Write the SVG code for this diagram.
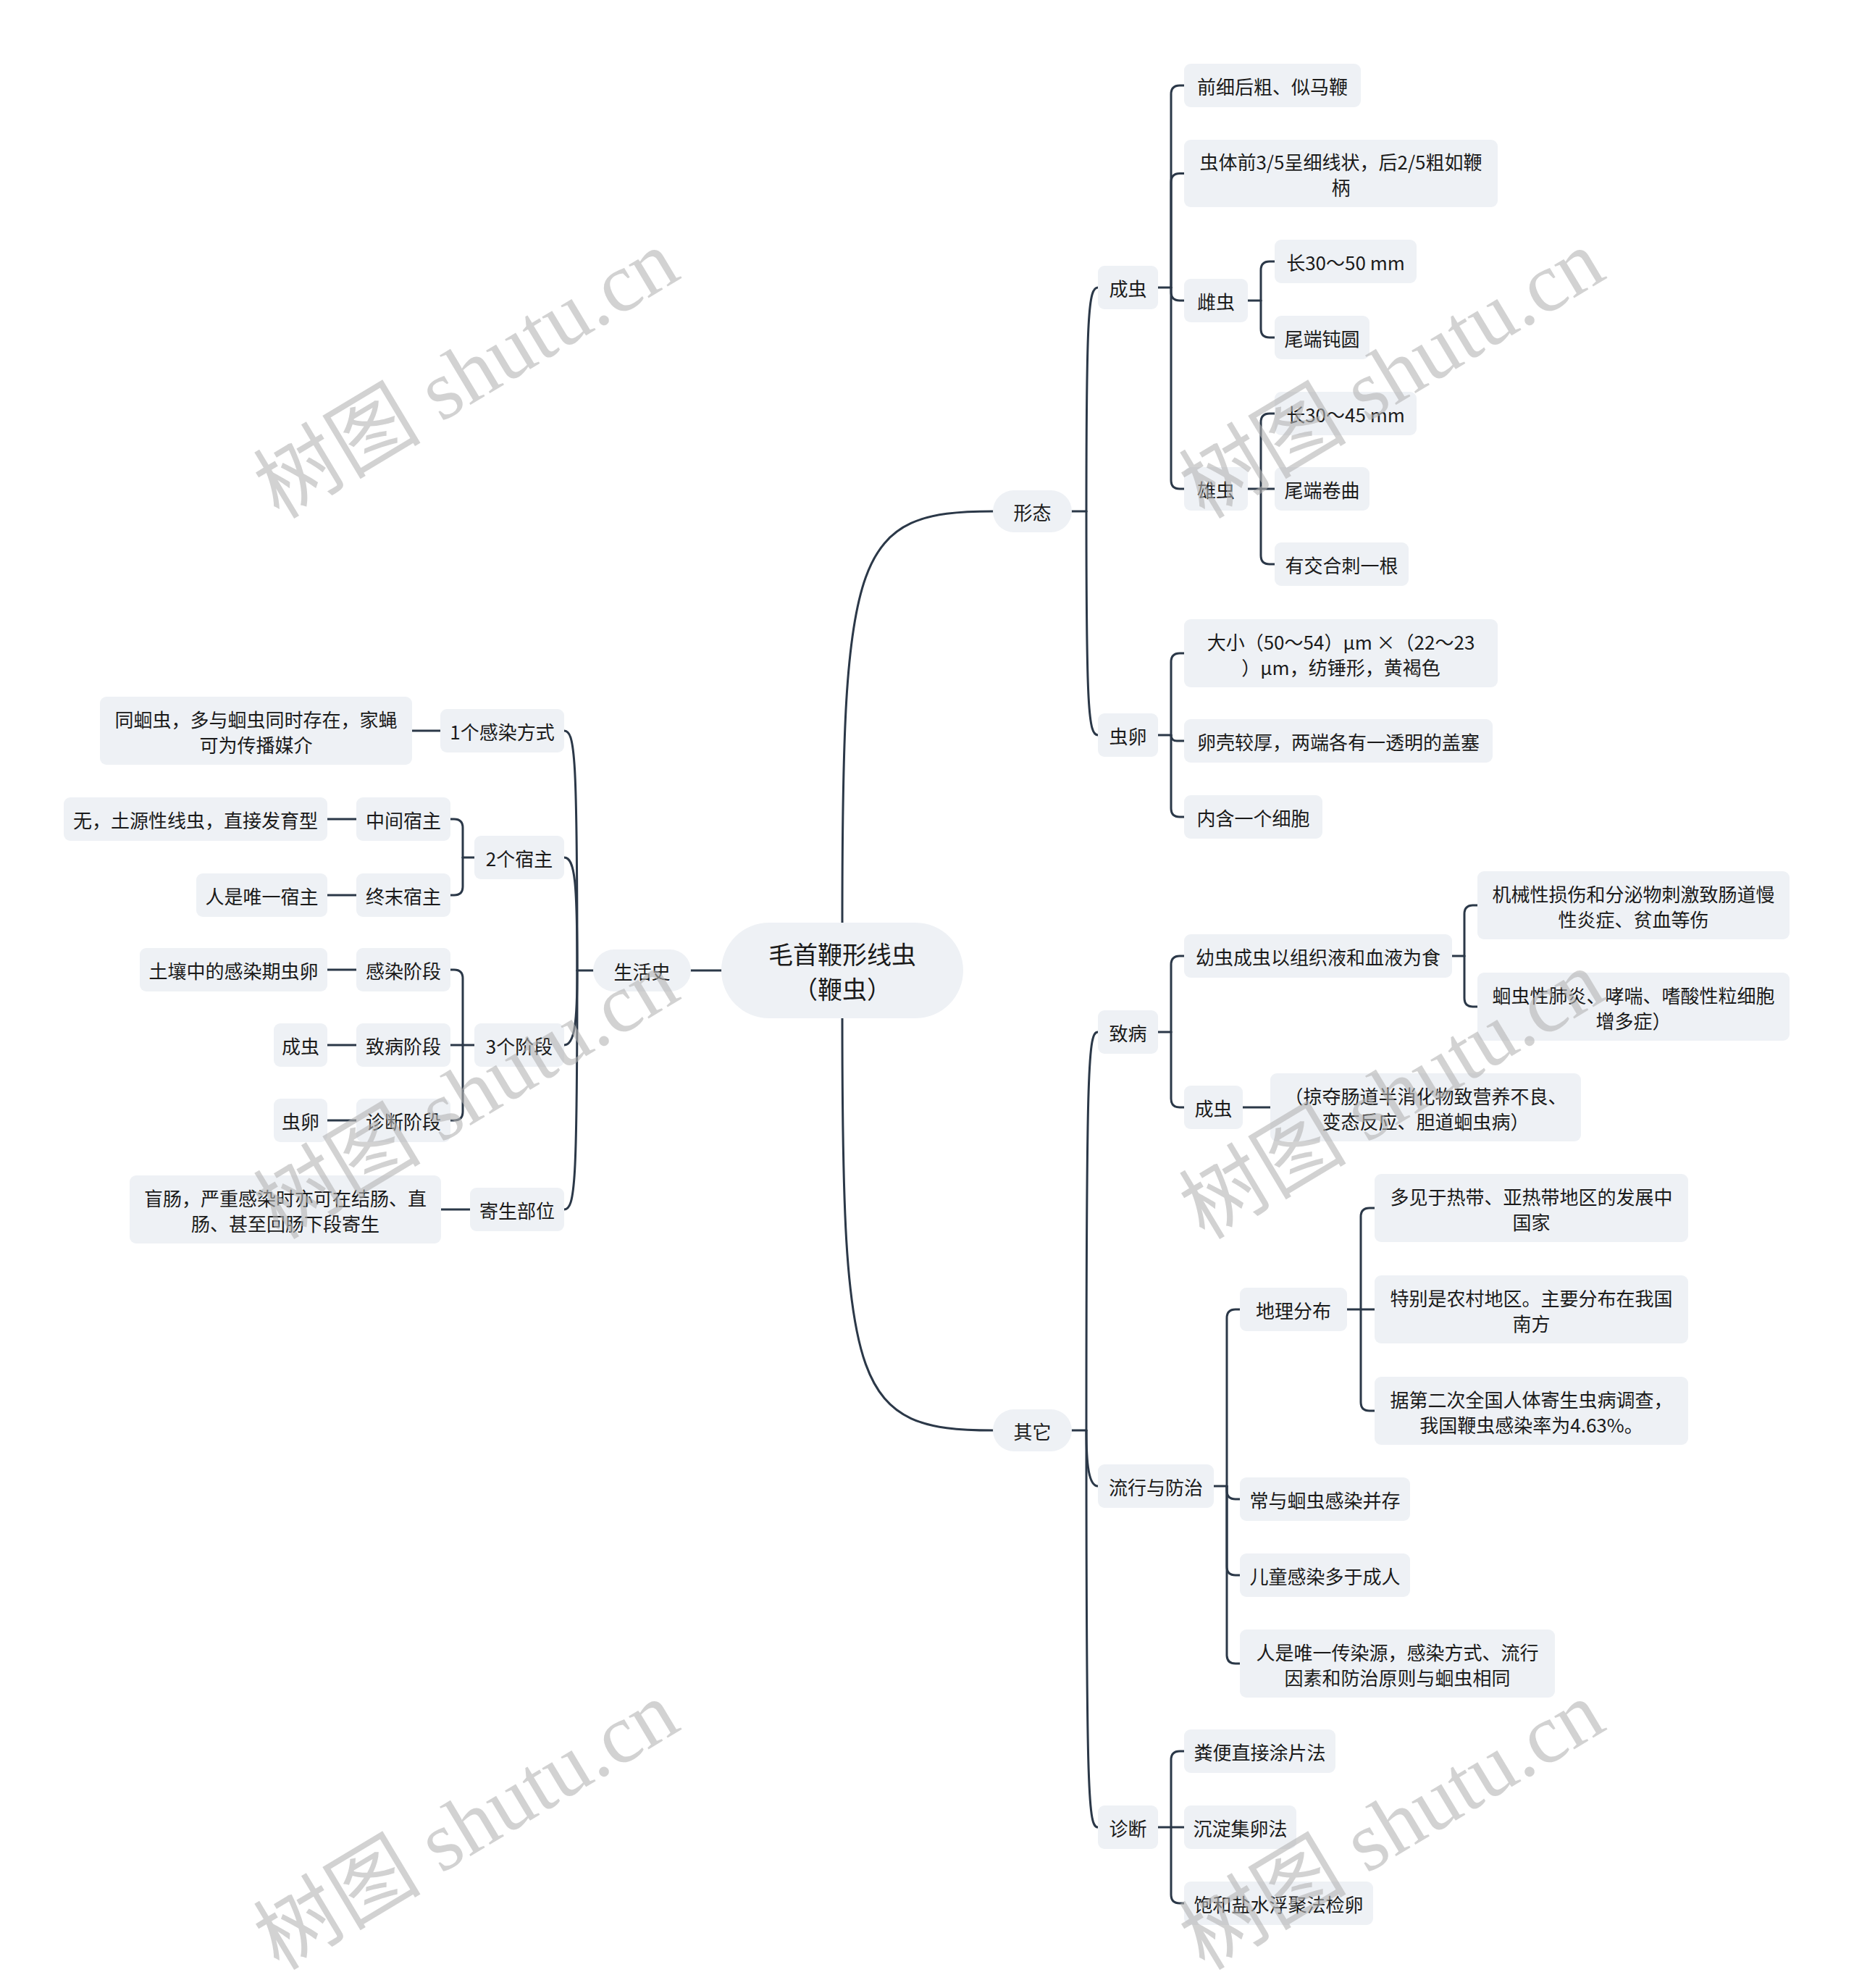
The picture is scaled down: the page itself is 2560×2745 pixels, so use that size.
<svg xmlns="http://www.w3.org/2000/svg" width="2560" height="2745" viewBox="0 0 2560 2745">
<style>
.n{fill:#eef1f5}
.t{font-family:"Microsoft YaHei","Noto Sans CJK SC","Noto Sans",sans-serif;font-size:26px;fill:#1a1a1a;text-anchor:middle;dominant-baseline:central}
.r{font-size:34px}
.c path{fill:none;stroke:#2b3848;stroke-width:3;stroke-linecap:round}
.wm{font-family:"Liberation Serif","Noto Sans CJK SC",serif;font-size:116px;fill:#b4b4b4;fill-opacity:0.6;text-anchor:middle;dominant-baseline:central}
</style>
<rect width="2560" height="2745" fill="#ffffff"/>
<g class="c" id="connectors">
<path d="M1163 1274 C1163 760 1180 706 1371 706"/>
<path d="M1163 1406 C1163 1921 1180 1975 1371 1975"/>
<path d="M996 1340 H954"/>
<path d="M1480 706 H1500"/>
<path d="M1500 706 C1500 432 1503 397 1516 397"/>
<path d="M1500 706 C1500 980 1503 1015 1516 1015"/>
<path d="M1599 397 H1617"/>
<path d="M1617 397 V130 Q1617 118 1629 118 H1635"/>
<path d="M1617 397 V251.5 Q1617 239.5 1629 239.5 H1635"/>
<path d="M1617 397 V403 Q1617 415 1629 415 H1635"/>
<path d="M1617 397 V663 Q1617 675 1629 675 H1635"/>
<path d="M1723 415 H1741"/>
<path d="M1741 415 V373 Q1741 361 1753 361 H1760"/>
<path d="M1741 415 V454 Q1741 466 1753 466 H1760"/>
<path d="M1723 675 H1760"/>
<path d="M1741 675 V583 Q1741 571 1753 571 H1760"/>
<path d="M1741 675 V767 Q1741 779 1753 779 H1760"/>
<path d="M1599 1015 H1617"/>
<path d="M1617 1015 V914 Q1617 902 1629 902 H1635"/>
<path d="M1617 1015 Q1617 1023 1625 1023 H1635"/>
<path d="M1617 1015 V1116 Q1617 1128 1629 1128 H1635"/>
<path d="M1480 1975 H1500"/>
<path d="M1500 1975 C1500 1460 1503 1425 1516 1425"/>
<path d="M1500 1975 C1500 2020 1503 2052 1516 2052"/>
<path d="M1500 1975 C1500 2490 1503 2523 1516 2523"/>
<path d="M1599 1425 H1617"/>
<path d="M1617 1425 V1332 Q1617 1320 1629 1320 H1635"/>
<path d="M1617 1425 V1517 Q1617 1529 1629 1529 H1635"/>
<path d="M2005 1320 H2022"/>
<path d="M2022 1320 V1262 Q2022 1250 2034 1250 H2040"/>
<path d="M2022 1320 V1378 Q2022 1390 2034 1390 H2040"/>
<path d="M1716 1529 H1754"/>
<path d="M1676 2052 H1694"/>
<path d="M1694 2052 V1820 Q1694 1808 1706 1808 H1712"/>
<path d="M1694 2052 V2058 Q1694 2070 1706 2070 H1712"/>
<path d="M1694 2052 V2163 Q1694 2175 1706 2175 H1712"/>
<path d="M1694 2052 V2285 Q1694 2297 1706 2297 H1712"/>
<path d="M1860 1808 H1898"/>
<path d="M1879 1808 V1680 Q1879 1668 1891 1668 H1898"/>
<path d="M1879 1808 V1936 Q1879 1948 1891 1948 H1898"/>
<path d="M1599 2523 H1635"/>
<path d="M1617 2523 V2430 Q1617 2418 1629 2418 H1635"/>
<path d="M1617 2523 V2616 Q1617 2628 1629 2628 H1635"/>
<path d="M819 1340 H797"/>
<path d="M797 1340 C797 1044 794 1009 779 1009"/>
<path d="M797 1340 C797 1219 794 1184 779 1184"/>
<path d="M797 1340 C797 1408 794 1443 779 1443"/>
<path d="M797 1340 C797 1635 794 1670 779 1670"/>
<path d="M608 1009 H569"/>
<path d="M655 1184 H639"/>
<path d="M639 1184 V1143 Q639 1131 627 1131 H622"/>
<path d="M639 1184 V1224 Q639 1236 627 1236 H622"/>
<path d="M492 1131 H452"/>
<path d="M492 1236 H452"/>
<path d="M655 1443 H622"/>
<path d="M639 1443 V1351 Q639 1339 627 1339 H622"/>
<path d="M639 1443 V1535 Q639 1547 627 1547 H622"/>
<path d="M492 1339 H452"/>
<path d="M492 1443 H452"/>
<path d="M492 1547 H452"/>
<path d="M649 1670 H609"/>
</g>
<g id="root"><rect class="n" x="996" y="1274" width="334" height="132" rx="66"/><text class="t r"><tspan x="1163" y="1316">毛首鞭形线虫</tspan><tspan x="1163" y="1364">（鞭虫）</tspan></text></g>
<g id="n-xingtai"><rect class="n" x="1371" y="677" width="109" height="58" rx="29"/><text class="t" x="1425.5" y="706">形态</text></g>
<g id="n-qita"><rect class="n" x="1371" y="1946" width="109" height="58" rx="29"/><text class="t" x="1425.5" y="1975">其它</text></g>
<g id="n-shenghuoshi"><rect class="n" x="819" y="1311" width="135" height="58" rx="29"/><text class="t" x="886.5" y="1340">生活史</text></g>
<g id="n-chengchong"><rect class="n" x="1516" y="367" width="83" height="60" rx="9"/><text class="t" x="1557.5" y="397">成虫</text></g>
<g id="n-qianxi"><rect class="n" x="1635" y="88" width="244" height="60" rx="9"/><text class="t" x="1757" y="118">前细后粗、似马鞭</text></g>
<g id="n-chongti"><rect class="n" x="1635" y="193" width="433" height="93" rx="9"/><text class="t"><tspan x="1851.5" y="222">虫体前3/5呈细线状，后2/5粗如鞭</tspan><tspan x="1851.5" y="257">柄</tspan></text></g>
<g id="n-cichong"><rect class="n" x="1635" y="385" width="88" height="60" rx="9"/><text class="t" x="1679" y="415">雌虫</text></g>
<g id="n-c1"><rect class="n" x="1760" y="331" width="196" height="60" rx="9"/><text class="t" x="1858" y="361">长30～50 mm</text></g>
<g id="n-c2"><rect class="n" x="1760" y="436" width="131" height="60" rx="9"/><text class="t" x="1825.5" y="466">尾端钝圆</text></g>
<g id="n-xiongchong"><rect class="n" x="1635" y="645" width="88" height="60" rx="9"/><text class="t" x="1679" y="675">雄虫</text></g>
<g id="n-x1"><rect class="n" x="1760" y="541" width="196" height="60" rx="9"/><text class="t" x="1858" y="571">长30～45 mm</text></g>
<g id="n-x2"><rect class="n" x="1760" y="645" width="131" height="60" rx="9"/><text class="t" x="1825.5" y="675">尾端卷曲</text></g>
<g id="n-x3"><rect class="n" x="1760" y="749" width="185" height="60" rx="9"/><text class="t" x="1852.5" y="779">有交合刺一根</text></g>
<g id="n-chongluan"><rect class="n" x="1516" y="985" width="83" height="60" rx="9"/><text class="t" x="1557.5" y="1015">虫卵</text></g>
<g id="n-e1"><rect class="n" x="1635" y="855" width="433" height="94" rx="9"/><text class="t"><tspan x="1851.5" y="885">大小（50～54）μm ×（22～23</tspan><tspan x="1851.5" y="920">）μm，纺锤形，黄褐色</tspan></text></g>
<g id="n-e2"><rect class="n" x="1635" y="993" width="426" height="60" rx="9"/><text class="t" x="1848" y="1023">卵壳较厚，两端各有一透明的盖塞</text></g>
<g id="n-e3"><rect class="n" x="1635" y="1098" width="191" height="60" rx="9"/><text class="t" x="1730.5" y="1128">内含一个细胞</text></g>
<g id="n-zhibing"><rect class="n" x="1516" y="1395" width="83" height="60" rx="9"/><text class="t" x="1557.5" y="1425">致病</text></g>
<g id="n-youchong"><rect class="n" x="1635" y="1290" width="370" height="60" rx="9"/><text class="t" x="1820" y="1320">幼虫成虫以组织液和血液为食</text></g>
<g id="n-y1"><rect class="n" x="2040" y="1203" width="431" height="94" rx="9"/><text class="t"><tspan x="2255.5" y="1233">机械性损伤和分泌物刺激致肠道慢</tspan><tspan x="2255.5" y="1268">性炎症、贫血等伤</tspan></text></g>
<g id="n-y2"><rect class="n" x="2040" y="1343" width="431" height="94" rx="9"/><text class="t"><tspan x="2255.5" y="1373">蛔虫性肺炎、哮喘、嗜酸性粒细胞</tspan><tspan x="2255.5" y="1408">增多症）</tspan></text></g>
<g id="n-chengchong2"><rect class="n" x="1635" y="1499" width="81" height="60" rx="9"/><text class="t" x="1675.5" y="1529">成虫</text></g>
<g id="n-lueduo"><rect class="n" x="1754" y="1482" width="429" height="94" rx="9"/><text class="t"><tspan x="1968.5" y="1512">（掠夺肠道半消化物致营养不良、</tspan><tspan x="1968.5" y="1547">变态反应、胆道蛔虫病）</tspan></text></g>
<g id="n-liuxing"><rect class="n" x="1516" y="2022" width="160" height="60" rx="9"/><text class="t" x="1596" y="2052">流行与防治</text></g>
<g id="n-dili"><rect class="n" x="1712" y="1778" width="148" height="60" rx="9"/><text class="t" x="1786" y="1808">地理分布</text></g>
<g id="n-d1"><rect class="n" x="1898" y="1621" width="433" height="94" rx="9"/><text class="t"><tspan x="2114.5" y="1651">多见于热带、亚热带地区的发展中</tspan><tspan x="2114.5" y="1686">国家</tspan></text></g>
<g id="n-d2"><rect class="n" x="1898" y="1761" width="433" height="94" rx="9"/><text class="t"><tspan x="2114.5" y="1791">特别是农村地区。主要分布在我国</tspan><tspan x="2114.5" y="1826">南方</tspan></text></g>
<g id="n-d3"><rect class="n" x="1898" y="1901" width="433" height="94" rx="9"/><text class="t"><tspan x="2114.5" y="1931">据第二次全国人体寄生虫病调查，</tspan><tspan x="2114.5" y="1966">我国鞭虫感染率为4.63%。</tspan></text></g>
<g id="n-l2"><rect class="n" x="1712" y="2040" width="235" height="60" rx="9"/><text class="t" x="1829.5" y="2070">常与蛔虫感染并存</text></g>
<g id="n-l3"><rect class="n" x="1712" y="2145" width="235" height="60" rx="9"/><text class="t" x="1829.5" y="2175">儿童感染多于成人</text></g>
<g id="n-l4"><rect class="n" x="1712" y="2250" width="435" height="94" rx="9"/><text class="t"><tspan x="1929.5" y="2280">人是唯一传染源，感染方式、流行</tspan><tspan x="1929.5" y="2315">因素和防治原则与蛔虫相同</tspan></text></g>
<g id="n-zhenduan"><rect class="n" x="1516" y="2493" width="83" height="60" rx="9"/><text class="t" x="1557.5" y="2523">诊断</text></g>
<g id="n-z1"><rect class="n" x="1635" y="2388" width="209" height="60" rx="9"/><text class="t" x="1739.5" y="2418">粪便直接涂片法</text></g>
<g id="n-z2"><rect class="n" x="1635" y="2493" width="155" height="60" rx="9"/><text class="t" x="1712.5" y="2523">沉淀集卵法</text></g>
<g id="n-z3"><rect class="n" x="1635" y="2598" width="261" height="60" rx="9"/><text class="t" x="1765.5" y="2628">饱和盐水浮聚法检卵</text></g>
<g id="n-ganran"><rect class="n" x="608" y="979" width="171" height="60" rx="9"/><text class="t" x="693.5" y="1009">1个感染方式</text></g>
<g id="n-ganran1"><rect class="n" x="138" y="962" width="431" height="94" rx="9"/><text class="t"><tspan x="353.5" y="992">同蛔虫，多与蛔虫同时存在，家蝇</tspan><tspan x="353.5" y="1027">可为传播媒介</tspan></text></g>
<g id="n-suzhu"><rect class="n" x="655" y="1154" width="124" height="60" rx="9"/><text class="t" x="717" y="1184">2个宿主</text></g>
<g id="n-zhongjian"><rect class="n" x="492" y="1101" width="130" height="60" rx="9"/><text class="t" x="557" y="1131">中间宿主</text></g>
<g id="n-zhongjian1"><rect class="n" x="88" y="1101" width="364" height="60" rx="9"/><text class="t" x="270" y="1131">无，土源性线虫，直接发育型</text></g>
<g id="n-zhongmo"><rect class="n" x="492" y="1206" width="130" height="60" rx="9"/><text class="t" x="557" y="1236">终末宿主</text></g>
<g id="n-zhongmo1"><rect class="n" x="271" y="1206" width="181" height="60" rx="9"/><text class="t" x="361.5" y="1236">人是唯一宿主</text></g>
<g id="n-jieduan"><rect class="n" x="655" y="1413" width="124" height="60" rx="9"/><text class="t" x="717" y="1443">3个阶段</text></g>
<g id="n-j1"><rect class="n" x="492" y="1309" width="130" height="60" rx="9"/><text class="t" x="557" y="1339">感染阶段</text></g>
<g id="n-j1a"><rect class="n" x="193" y="1309" width="259" height="60" rx="9"/><text class="t" x="322.5" y="1339">土壤中的感染期虫卵</text></g>
<g id="n-j2"><rect class="n" x="492" y="1413" width="130" height="60" rx="9"/><text class="t" x="557" y="1443">致病阶段</text></g>
<g id="n-j2a"><rect class="n" x="378" y="1413" width="74" height="60" rx="9"/><text class="t" x="415" y="1443">成虫</text></g>
<g id="n-j3"><rect class="n" x="492" y="1517" width="130" height="60" rx="9"/><text class="t" x="557" y="1547">诊断阶段</text></g>
<g id="n-j3a"><rect class="n" x="378" y="1517" width="74" height="60" rx="9"/><text class="t" x="415" y="1547">虫卵</text></g>
<g id="n-jisheng"><rect class="n" x="649" y="1640" width="130" height="60" rx="9"/><text class="t" x="714" y="1670">寄生部位</text></g>
<g id="n-jisheng1"><rect class="n" x="179" y="1623" width="430" height="94" rx="9"/><text class="t"><tspan x="394" y="1653">盲肠，严重感染时亦可在结肠、直</tspan><tspan x="394" y="1688">肠、甚至回肠下段寄生</tspan></text></g>
<g id="watermarks">
<text class="wm" transform="translate(644 517) rotate(-31)">树图 shutu.cn</text>
<text class="wm" transform="translate(1922 517) rotate(-31)">树图 shutu.cn</text>
<text class="wm" transform="translate(644 1512) rotate(-31)">树图 shutu.cn</text>
<text class="wm" transform="translate(1922 1512) rotate(-31)">树图 shutu.cn</text>
<text class="wm" transform="translate(644 2521) rotate(-31)">树图 shutu.cn</text>
<text class="wm" transform="translate(1922 2521) rotate(-31)">树图 shutu.cn</text>
</g>
</svg>
